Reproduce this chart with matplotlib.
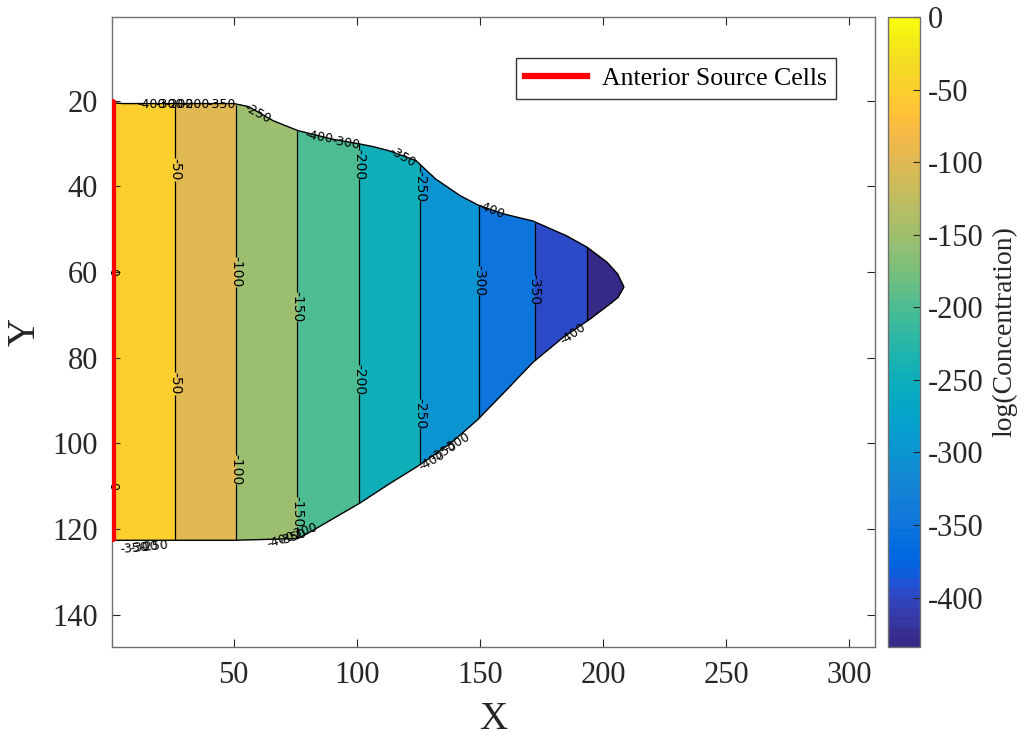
import numpy as np
import matplotlib
matplotlib.use("Agg")
import matplotlib.pyplot as plt
from matplotlib.colors import ListedColormap, Normalize
from matplotlib.cm import ScalarMappable
from matplotlib.lines import Line2D

plt.rcParams['axes.unicode_minus'] = False

# ---------------- data ----------------
# x position (in X units) where the concentration crosses each level
level_x = [0.0, 26.2, 50.9, 75.8, 100.9, 125.7, 149.7, 172.3, 193.3, 209.0]
level_z = [0, -50, -100, -150, -200, -250, -300, -350, -400, -434]

# domain boundary (upper edge and lower edge)
top_x = [0, 5, 50, 56, 66, 76, 90, 101, 107, 113, 124, 132, 142, 150, 160, 171.5, 185, 193.5, 201.6, 206, 208.5]
top_y = [20.5, 20.7, 20.7, 21.4, 24.7, 27.0, 29.0, 30.1, 30.8, 31.7, 34.0, 38.3, 42.2, 44.6, 46.5, 48.1, 51.5, 54.2, 57.7, 60.5, 63.5]
bot_x = [0, 50, 76, 80, 89, 101, 113, 125.6, 138, 149, 160, 171.5, 183.7, 194.7, 201.6, 206, 208.5]
bot_y = [122.6, 122.6, 122.2, 121.0, 118.0, 114.0, 109.5, 105.0, 100.0, 94.5, 88.0, 81.1, 75.3, 71.0, 68.0, 66.0, 63.5]

# anterior source cells (red line)
source_x = [1.0, 1.0]
source_y = [20.3, 122.3]

contour_levels = [-400, -350, -300, -250, -200, -150, -100, -50]
fill_levels = [-434, -400, -350, -300, -250, -200, -150, -100, -50, 0]
zmin, zmax = -434, 0

cbar_ticks = [0, -50, -100, -150, -200, -250, -300, -350, -400]
x_ticks = [50, 100, 150, 200, 250, 300]
y_ticks = [20, 40, 60, 80, 100, 120, 140]

label_pos = [(26, 36), (26, 86), (51, 60), (51, 106), (76, 68), (76, 116),
             (101, 35), (101, 85), (126, 40), (126, 93), (150, 62), (173, 64)]

# clutter labels of coincident contours along the domain edge
edge_labels = [("-400", 16.5, 20.9, 0), ("-300", 24.0, 20.9, 0), ("-200", 28.0, 20.9, 0),
               ("-200", 34.5, 20.9, 0), ("-350", 45.0, 20.9, 0), ("-250", 59.5, 23.0, -28),
               ("-400", 84.5, 28.6, -10), ("-300", 95.5, 29.8, -10), ("-350", 118.5, 33.2, -30),
               ("-400", 154.5, 45.6, -22), ("-400", 188.0, 74.5, 35),
               ("-350", 9.5, 124.4, 5), ("-300", 13.5, 124.2, 5), ("-250", 17.5, 124.0, 5),
               ("-400", 69.0, 122.6, 18), ("-350", 74.0, 121.8, 18), ("-300", 78.5, 120.6, 18),
               ("-400", 130.5, 104.0, 30), ("-350", 135.5, 102.0, 30), ("-300", 140.5, 99.8, 30),
               ("0", 0.9, 60.0, -90), ("0", 0.9, 110.0, -90)]

# ---------------- colormap (MATLAB parula, 64 entries) ----------------
parula = [
    [0.2081, 0.1663, 0.5292], [0.2116, 0.1898, 0.5777], [0.2123, 0.2138, 0.6270], [0.2081, 0.2386, 0.6771],
    [0.1959, 0.2645, 0.7279], [0.1707, 0.2919, 0.7792], [0.1253, 0.3242, 0.8303], [0.0591, 0.3598, 0.8683],
    [0.0117, 0.3875, 0.8820], [0.0060, 0.4086, 0.8828], [0.0165, 0.4266, 0.8786], [0.0329, 0.4430, 0.8720],
    [0.0498, 0.4586, 0.8641], [0.0629, 0.4737, 0.8554], [0.0723, 0.4887, 0.8467], [0.0779, 0.5040, 0.8384],
    [0.0793, 0.5200, 0.8312], [0.0749, 0.5375, 0.8263], [0.0641, 0.5570, 0.8240], [0.0488, 0.5772, 0.8228],
    [0.0343, 0.5966, 0.8199], [0.0265, 0.6137, 0.8135], [0.0239, 0.6287, 0.8038], [0.0231, 0.6418, 0.7913],
    [0.0228, 0.6535, 0.7768], [0.0267, 0.6642, 0.7607], [0.0384, 0.6743, 0.7436], [0.0590, 0.6838, 0.7254],
    [0.0843, 0.6928, 0.7062], [0.1133, 0.7015, 0.6859], [0.1453, 0.7098, 0.6646], [0.1801, 0.7177, 0.6424],
    [0.2178, 0.7250, 0.6193], [0.2586, 0.7317, 0.5954], [0.3022, 0.7376, 0.5712], [0.3482, 0.7424, 0.5473],
    [0.3953, 0.7459, 0.5244], [0.4420, 0.7481, 0.5033], [0.4871, 0.7491, 0.4840], [0.5300, 0.7491, 0.4661],
    [0.5709, 0.7485, 0.4494], [0.6099, 0.7473, 0.4337], [0.6473, 0.7456, 0.4188], [0.6834, 0.7435, 0.4044],
    [0.7184, 0.7411, 0.3905], [0.7525, 0.7384, 0.3768], [0.7858, 0.7356, 0.3633], [0.8185, 0.7327, 0.3498],
    [0.8507, 0.7299, 0.3360], [0.8824, 0.7274, 0.3217], [0.9139, 0.7258, 0.3063], [0.9450, 0.7261, 0.2886],
    [0.9739, 0.7314, 0.2666], [0.9938, 0.7455, 0.2403], [0.9990, 0.7653, 0.2164], [0.9955, 0.7861, 0.1967],
    [0.9880, 0.8066, 0.1794], [0.9789, 0.8271, 0.1633], [0.9697, 0.8481, 0.1475], [0.9626, 0.8705, 0.1309],
    [0.9589, 0.8949, 0.1132], [0.9598, 0.9218, 0.0948], [0.9661, 0.9514, 0.0755], [0.9763, 0.9831, 0.0538]]
cmap = ListedColormap(parula)
norm = Normalize(vmin=zmin, vmax=zmax)

# ---------------- field on a grid ----------------
gx = np.arange(0, 210.01, 0.25)
gy = np.arange(20, 123.51, 0.25)
X, Y = np.meshgrid(gx, gy)
Z = np.interp(X, level_x, level_z)
ytop = np.interp(X, top_x, top_y)
ybot = np.interp(X, bot_x, bot_y)
outside = (Y < ytop) | (Y > ybot) | (X > top_x[-1])
Zm = np.ma.masked_array(Z, mask=outside)

# ---------------- figure ----------------
serif = 'Liberation Serif'
axcol = '#262626'
fig = plt.figure(figsize=(10.30, 7.39), dpi=100)
ax = fig.add_axes([0.1087, 0.1245, 0.7408, 0.8525])

# MATLAB-style: region between two levels takes the colour of its lower level
fill_colors = cmap(norm(np.array(fill_levels[:-1], dtype=float)))
lv = list(fill_levels)
lv[0] = lv[0] - 10
ax.contourf(X, Y, Zm, levels=lv, colors=fill_colors)
cs = ax.contour(X, Y, Zm, levels=contour_levels, colors='k', linewidths=0.9,
                linestyles='solid')
ax.clabel(cs, manual=label_pos, inline=True, fontsize=10, fmt='%d', inline_spacing=5)

# boundary outline
bx = list(top_x) + list(bot_x[::-1])
by = list(top_y) + list(bot_y[::-1])
ax.plot(bx, by, color='k', lw=1.0)

for t, x, y, r in edge_labels:
    ax.text(x, y, t, fontsize=9, rotation=r, ha='center', va='center',
            rotation_mode='anchor', color='k', family='DejaVu Sans')

ax.plot(source_x, source_y, color='red', lw=4.5, solid_capstyle='round', zorder=5)

ax.set_xlim(0.5, 310.5)
ax.set_ylim(147.5, 0.5)
ax.set_xticks(x_ticks)
ax.set_yticks(y_ticks)
ax.tick_params(direction='in', length=6, width=0.8, top=True, right=True,
               labelsize=22, colors=axcol, pad=10)
for lab in ax.get_xticklabels() + ax.get_yticklabels():
    lab.set_family(serif)
for s in ax.spines.values():
    s.set_color('#707070')
    s.set_linewidth(1.0)
ax.set_xlabel('X', fontsize=28, family=serif, color=axcol, labelpad=8)
ax.set_ylabel('Y', fontsize=28, family=serif, color=axcol, labelpad=6)

leg_handle = Line2D([0], [0], color='red', lw=4.5)
leg = ax.legend([leg_handle], ['Anterior Source Cells'], loc='upper right',
                bbox_to_anchor=(0.966, 0.955), prop={'family': serif, 'size': 18.5},
                frameon=True, fancybox=False, edgecolor='k', handlelength=2.4,
                borderpad=0.35, handletextpad=0.6)
leg.get_frame().set_linewidth(1.0)

# colorbar
cax = fig.add_axes([0.862, 0.1245, 0.0311, 0.8525])
sm = ScalarMappable(norm=norm, cmap=cmap)
cb = fig.colorbar(sm, cax=cax, ticks=cbar_ticks)
cb.outline.set_edgecolor('#707070')
cb.outline.set_linewidth(1.0)
cax.tick_params(direction='in', length=5, width=0.8, labelsize=22, colors=axcol, pad=6)
for lab in cax.get_yticklabels():
    lab.set_family(serif)
cb.set_label('log(Concentration)', fontsize=20, family=serif, color=axcol, labelpad=6)

fig.savefig('out.png', dpi=100)
